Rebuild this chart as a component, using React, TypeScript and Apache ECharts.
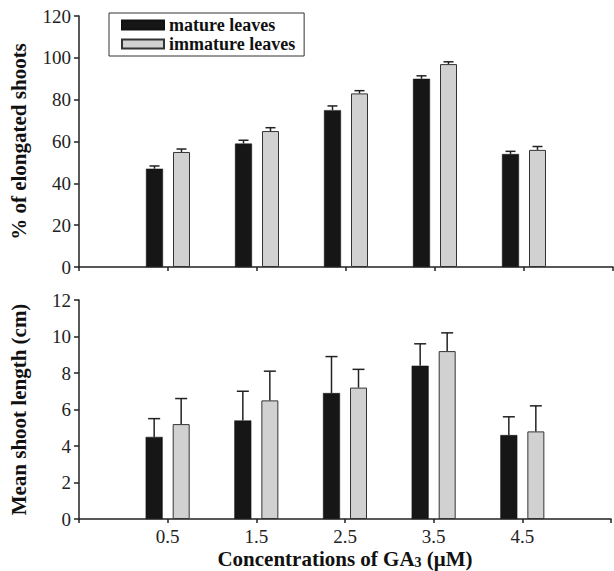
import React, { useEffect, useRef } from "react";
import * as echarts from "echarts";

const concentrations = ["0.5", "1.5", "2.5", "3.5", "4.5"];
const pctMature = [47, 59, 75, 90, 54];
const pctMatureErr = [1.3, 1.6, 2.0, 1.4, 1.3];
const pctImmature = [55, 65, 83, 97, 56];
const pctImmatureErr = [1.4, 1.6, 1.3, 1.1, 1.6];
const lenMature = [4.5, 5.4, 6.9, 8.4, 4.6];
const lenMatureErr = [1.0, 1.6, 2.0, 1.2, 1.0];
const lenImmature = [5.2, 6.5, 7.2, 9.2, 4.8];
const lenImmatureErr = [1.4, 1.6, 1.0, 1.0, 1.4];

const categories = ["", ...concentrations, ""];
const FONT = "Liberation Serif, Times New Roman, serif";
const BLACK = "#161616";
const GRAY = "#d0d1d0";
const AXIS = "#222";

const padBars = (vals: number[]) => [null, ...vals, null];
const errData = (vals: number[], errs: number[]) =>
  vals.map((v, i) => [i + 1, v, errs[i]]);

const errSeries = (
  vals: number[],
  errs: number[],
  xIdx: number,
  offset: number,
  cap: number
) => ({
  type: "custom",
  xAxisIndex: xIdx,
  yAxisIndex: xIdx,
  z: 5,
  silent: true,
  data: errData(vals, errs),
  renderItem: (_p: any, api: any) => {
    const idx = api.value(0);
    const v = api.value(1);
    const e = api.value(2);
    const base = api.coord([idx, v]);
    const top = api.coord([idx, v + e]);
    const x = base[0] + offset;
    const style = { stroke: "#222", lineWidth: 1.5 };
    return {
      type: "group",
      children: [
        { type: "line", shape: { x1: x, y1: base[1], x2: x, y2: top[1] }, style },
        { type: "line", shape: { x1: x - cap, y1: top[1], x2: x + cap, y2: top[1] }, style },
      ],
    };
  },
});

const yAxisBase = {
  type: "value",
  nameLocation: "middle",
  nameGap: 50,
  nameTextStyle: { fontFamily: FONT, fontWeight: "bold", fontSize: 21, color: "#111" },
  axisLine: { show: true, lineStyle: { color: AXIS, width: 1.5 } },
  axisTick: { show: true, length: 5, lineStyle: { color: AXIS, width: 1.5 } },
  axisLabel: { fontFamily: FONT, fontSize: 19, color: "#222", margin: 8 },
  splitLine: { show: false },
};

const xAxisBase = {
  type: "category",
  data: categories,
  boundaryGap: false,
  axisLine: { show: true, lineStyle: { color: AXIS, width: 1.5 } },
  axisTick: { show: true, length: 4, interval: 0, lineStyle: { color: AXIS, width: 1.5 } },
  splitLine: { show: false },
};

export default function App() {
  const ref = useRef<HTMLDivElement>(null);
  useEffect(() => {
    if (!ref.current) return;
    const chart = echarts.init(ref.current, null, { renderer: "svg" });
    chart.setOption({
      animation: false,
      backgroundColor: "#fff",
      legend: {
        data: ["mature leaves", "immature leaves"],
        orient: "vertical",
        left: 109,
        top: 13,
        padding: [3, 9, 3, 12],
        itemGap: 1,
        itemWidth: 42,
        itemHeight: 9,
        borderColor: "#333",
        borderWidth: 1,
        icon: "rect",
        textStyle: { fontFamily: FONT, fontWeight: "bold", fontSize: 18, lineHeight: 18, color: "#111" },
      },
      grid: [
        { left: 76, top: 16, width: 537, height: 251 },
        { left: 76, top: 300, width: 537, height: 219 },
      ],
      xAxis: [
        { ...xAxisBase, gridIndex: 0, axisLabel: { show: false } },
        {
          ...xAxisBase,
          gridIndex: 1,
          axisLabel: { show: true, interval: 0, fontFamily: FONT, fontSize: 19, color: "#222", margin: 8 },
          name: "Concentrations of GA{sub|3} (μM)",
          nameLocation: "middle",
          nameGap: 29,
          nameTextStyle: {
            fontFamily: FONT,
            fontWeight: "bold",
            fontSize: 21,
            color: "#111",
            rich: {
              sub: { fontFamily: FONT, fontWeight: "bold", fontSize: 14, color: "#111", verticalAlign: "bottom", padding: [7, 0, 0, 0] },
            },
          },
        },
      ],
      yAxis: [
        { ...yAxisBase, gridIndex: 0, min: 0, max: 120, interval: 20, name: "% of elongated shoots" },
        { ...yAxisBase, gridIndex: 1, min: 0, max: 12, interval: 2, name: "Mean shoot length (cm)" },
      ],
      series: [
        {
          name: "mature leaves",
          type: "bar",
          xAxisIndex: 0,
          yAxisIndex: 0,
          data: padBars(pctMature),
          barWidth: 17,
          barGap: "59%",
          itemStyle: { color: BLACK, borderColor: "#111", borderWidth: 0.5 },
        },
        {
          name: "immature leaves",
          type: "bar",
          xAxisIndex: 0,
          yAxisIndex: 0,
          data: padBars(pctImmature),
          barWidth: 17,
          barGap: "59%",
          itemStyle: { color: GRAY, borderColor: "#333", borderWidth: 1 },
        },
        {
          name: "mature leaves",
          type: "bar",
          xAxisIndex: 1,
          yAxisIndex: 1,
          data: padBars(lenMature),
          barWidth: 17,
          barGap: "59%",
          itemStyle: { color: BLACK, borderColor: "#111", borderWidth: 0.5 },
        },
        {
          name: "immature leaves",
          type: "bar",
          xAxisIndex: 1,
          yAxisIndex: 1,
          data: padBars(lenImmature),
          barWidth: 17,
          barGap: "59%",
          itemStyle: { color: GRAY, borderColor: "#333", borderWidth: 1 },
        },
        errSeries(pctMature, pctMatureErr, 0, -13.5, 5),
        errSeries(pctImmature, pctImmatureErr, 0, 13.5, 5),
        errSeries(lenMature, lenMatureErr, 1, -13.5, 6),
        errSeries(lenImmature, lenImmatureErr, 1, 13.5, 6),
      ],
    });
    return () => chart.dispose();
  }, []);
  return (
    <div
      ref={ref}
      style={{ position: "fixed", left: 0, top: 0, width: 614, height: 571, background: "#fff" }}
    />
  );
}
